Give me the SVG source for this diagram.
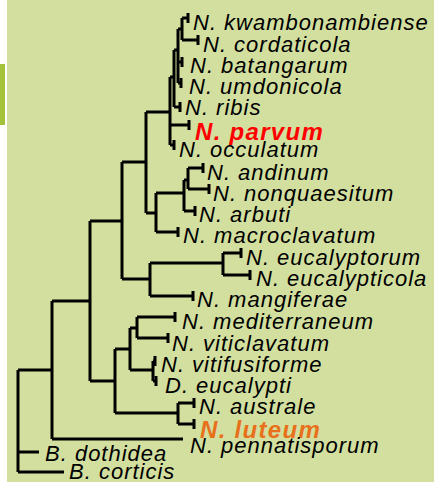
<svg xmlns="http://www.w3.org/2000/svg" width="434" height="482" viewBox="0 0 434 482">
<style>
.bg{fill:#D2DF9F}
.bar{fill:#A5C23B}
.br{fill:none;stroke:#000;stroke-width:3;stroke-linecap:butt;stroke-linejoin:miter}
.tk{fill:none;stroke:#000;stroke-width:3}
text{font-family:"Liberation Sans",Arial,sans-serif;font-style:italic;font-size:22px;letter-spacing:1px;fill:#000}
.red{fill:#FF0000;font-weight:bold;font-size:24px;letter-spacing:1.3px}
.org{fill:#E8701A;font-weight:bold;font-size:24px;letter-spacing:1.3px}
</style>
<rect x="0" y="0" width="434" height="482" fill="#FFFFFF"/>
<rect class="bg" x="7" y="0" width="427" height="482"/>
<rect class="bar" x="0" y="64" width="5" height="61"/>
<g id="connectors">
<path class="br" d="M182,18V40 M178,29V83 M174,50V107 M170,77V145 M146,112V213 M156,193V232 M184,180V211 M188,168V189 M122,162V279 M150,263V296 M223,253V275 M90,221V381 M115,349V413 M130,328V370 M137,317V338 M153,361V381 M178,403V424 M52,301V439 M18,370V472"/>
<path class="br" d="M182,18H188 M182,40H198 M178,29H182 M174,50H178 M178,62H182 M178,83H181 M174,107H180 M170,77H174 M170,125H189 M170,145H174 M146,112H170 M146,213H156 M156,193H184 M156,232H178 M184,180H188 M188,168H203 M188,189H209 M184,211H195 M122,162H146 M122,279H150 M150,263H223 M150,296H193 M223,253H241 M223,275H250 M90,221H122 M90,381H115 M115,349H130 M115,413H178 M130,328H137 M130,370H153 M137,317H175 M137,338H168 M153,361H155 M153,381H156 M178,403H194 M178,424H194 M52,301H90 M52,439H183 M18,370H52 M18,452H39 M18,472H64"/>
<path class="tk" d="M188,13V23 M198,35V45 M182,57V67 M181,78V88 M180,102V112 M189,120V130 M174,140V150 M203,163V173 M209,184V194 M195,206V216 M178,227V237 M241,248V258 M250,270V280 M193,291V301 M175,312V322 M168,333V343 M155,356V366 M156,376V386 M194,398V408 M194,419V429"/>
</g>
<g id="n-kwambonambiense"><text x="193" y="30">N. kwambonambiense</text></g>
<g id="n-cordaticola"><text x="203" y="52">N. cordaticola</text></g>
<g id="n-batangarum"><text x="190" y="73">N. batangarum</text></g>
<g id="n-umdonicola"><text x="189" y="94">N. umdonicola</text></g>
<g id="n-ribis"><text x="185" y="115">N. ribis</text></g>
<g id="n-parvum"><text class="red" x="195" y="140">N. parvum</text></g>
<g id="n-occulatum"><text x="179" y="157">N. occulatum</text></g>
<g id="n-andinum"><text x="207" y="180">N. andinum</text></g>
<g id="n-nonquaesitum"><text x="213" y="201">N. nonquaesitum</text></g>
<g id="n-arbuti"><text x="199" y="222">N. arbuti</text></g>
<g id="n-macroclavatum"><text x="183" y="243">N. macroclavatum</text></g>
<g id="n-eucalyptorum"><text x="246" y="265">N. eucalyptorum</text></g>
<g id="n-eucalypticola"><text x="256" y="286">N. eucalypticola</text></g>
<g id="n-mangiferae"><text x="197" y="307">N. mangiferae</text></g>
<g id="n-mediterraneum"><text x="182" y="329">N. mediterraneum</text></g>
<g id="n-viticlavatum"><text x="172" y="351">N. viticlavatum</text></g>
<g id="n-vitifusiforme"><text x="161" y="372">N. vitifusiforme</text></g>
<g id="d-eucalypti"><text x="165" y="393">D. eucalypti</text></g>
<g id="n-australe"><text x="199" y="414">N. australe</text></g>
<g id="n-luteum"><text class="org" x="200" y="438">N. luteum</text></g>
<g id="n-pennatisporum"><text x="190" y="453">N. pennatisporum</text></g>
<g id="b-dothidea"><text x="45" y="461">B. dothidea</text></g>
<g id="b-corticis"><text x="69" y="479">B. corticis</text></g>
</svg>
